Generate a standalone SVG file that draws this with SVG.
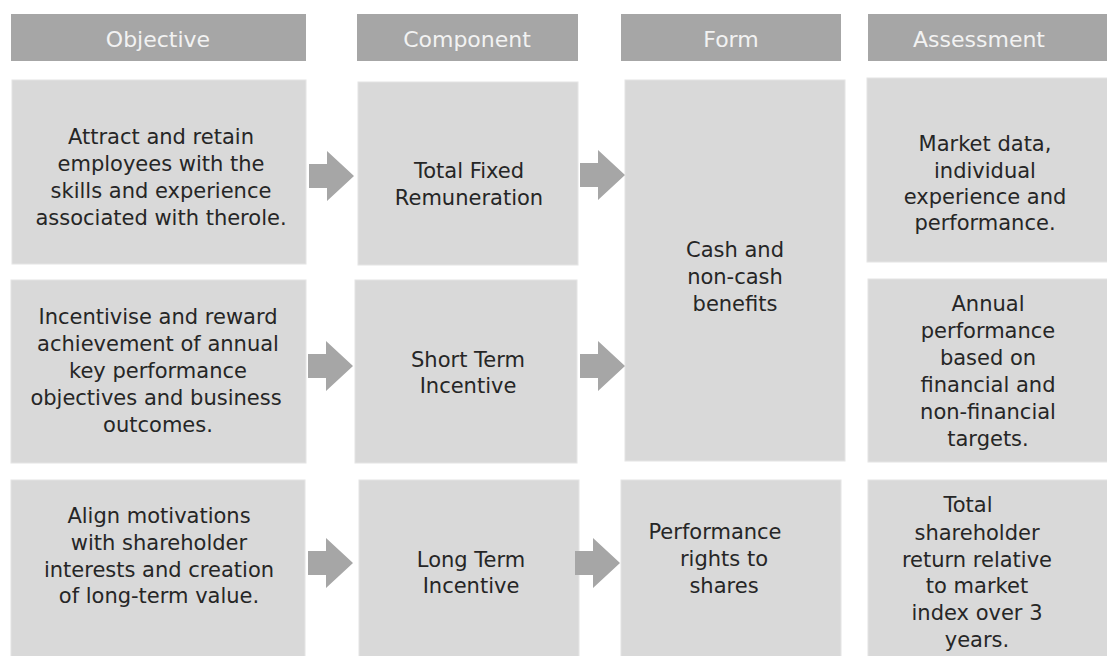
<svg xmlns="http://www.w3.org/2000/svg" xmlns:xlink="http://www.w3.org/1999/xlink" width="1107" height="656" viewBox="0 0 1107 656">
  <style>
    .hdr { fill: #a6a6a6; }
    .box { fill: #d9d9d9; stroke: #e4e4e4; stroke-width: 1; }
    .ht { font-family: "DejaVu Sans", Verdana, sans-serif; font-size: 22px; fill: #f2f2f2; text-anchor: middle; }
    .bt { font-family: "DejaVu Sans", Verdana, sans-serif; font-size: 21px; fill: #262626; text-anchor: middle; }
    .arr { fill: #a6a6a6; }
  </style>
  <defs>
    <path id="arrow" d="M0,0 L-27,-25 L-27,-12 L-45,-12 L-45,12 L-27,12 L-27,25 Z"/>
  </defs>
  <rect width="1107" height="656" fill="#ffffff"/>

  <g id="header-objective">
    <rect class="hdr" x="11" y="14" width="295" height="47"/>
    <text class="ht" x="158" y="47">Objective</text>
  </g>
  <g id="header-component">
    <rect class="hdr" x="357" y="14" width="221" height="47"/>
    <text class="ht" x="467" y="47">Component</text>
  </g>
  <g id="header-form">
    <rect class="hdr" x="621" y="14" width="220" height="47"/>
    <text class="ht" x="731" y="47">Form</text>
  </g>
  <g id="header-assessment">
    <rect class="hdr" x="868" y="14" width="240" height="47"/>
    <text class="ht" x="979" y="47">Assessment</text>
  </g>

  <g id="objective-1">
    <rect class="box" x="12" y="80" width="294" height="184"/>
    <text class="bt" x="161" y="144">Attract and retain</text>
    <text class="bt" x="161" y="171">employees with the</text>
    <text class="bt" x="161" y="198">skills and experience</text>
    <text class="bt" x="161" y="225">associated with therole.</text>
  </g>
  <g id="objective-2">
    <rect class="box" x="11" y="280" width="295" height="183"/>
    <text class="bt" x="158" y="324">Incentivise and reward</text>
    <text class="bt" x="158" y="351">achievement of annual</text>
    <text class="bt" x="158" y="378">key performance</text>
    <text class="bt" x="156" y="405">objectives and business</text>
    <text class="bt" x="158" y="432">outcomes.</text>
  </g>
  <g id="objective-3">
    <rect class="box" x="11" y="480" width="294" height="180"/>
    <text class="bt" x="159" y="523">Align motivations</text>
    <text class="bt" x="159" y="550">with shareholder</text>
    <text class="bt" x="159" y="577">interests and creation</text>
    <text class="bt" x="159" y="603">of long-term value.</text>
  </g>

  <g id="component-1">
    <rect class="box" x="358" y="82" width="220" height="183"/>
    <text class="bt" x="469" y="178">Total Fixed</text>
    <text class="bt" x="469" y="205">Remuneration</text>
  </g>
  <g id="component-2">
    <rect class="box" x="355" y="280" width="222" height="183"/>
    <text class="bt" x="468" y="367">Short Term</text>
    <text class="bt" x="468" y="393">Incentive</text>
  </g>
  <g id="component-3">
    <rect class="box" x="359" y="480" width="220" height="180"/>
    <text class="bt" x="471" y="567">Long Term</text>
    <text class="bt" x="471" y="593">Incentive</text>
  </g>

  <g id="form-1">
    <rect class="box" x="625" y="80" width="220" height="381"/>
    <text class="bt" x="735" y="257">Cash and</text>
    <text class="bt" x="735" y="284">non-cash</text>
    <text class="bt" x="735" y="311">benefits</text>
  </g>
  <g id="form-2">
    <rect class="box" x="621" y="480" width="220" height="180"/>
    <text class="bt" x="715" y="539">Performance</text>
    <text class="bt" x="724" y="566">rights to</text>
    <text class="bt" x="724" y="593">shares</text>
  </g>

  <g id="assessment-1">
    <rect class="box" x="867" y="78" width="241" height="184"/>
    <text class="bt" x="985" y="151">Market data,</text>
    <text class="bt" x="985" y="178">individual</text>
    <text class="bt" x="985" y="204">experience and</text>
    <text class="bt" x="985" y="230">performance.</text>
  </g>
  <g id="assessment-2">
    <rect class="box" x="868" y="279" width="240" height="183"/>
    <text class="bt" x="988" y="311">Annual</text>
    <text class="bt" x="988" y="338">performance</text>
    <text class="bt" x="988" y="365">based on</text>
    <text class="bt" x="988" y="392">financial and</text>
    <text class="bt" x="988" y="419">non-financial</text>
    <text class="bt" x="988" y="446">targets.</text>
  </g>
  <g id="assessment-3">
    <rect class="box" x="868" y="480" width="240" height="180"/>
    <text class="bt" x="968" y="512">Total</text>
    <text class="bt" x="977" y="540">shareholder</text>
    <text class="bt" x="977" y="567">return relative</text>
    <text class="bt" x="977" y="593">to market</text>
    <text class="bt" x="977" y="620">index over 3</text>
    <text class="bt" x="977" y="647">years.</text>
  </g>

  <g id="connectors">
    <use class="arr" xlink:href="#arrow" href="#arrow" transform="translate(354,176)"/>
    <use class="arr" xlink:href="#arrow" href="#arrow" transform="translate(625,175)"/>
    <use class="arr" xlink:href="#arrow" href="#arrow" transform="translate(353,366)"/>
    <use class="arr" xlink:href="#arrow" href="#arrow" transform="translate(625,366)"/>
    <use class="arr" xlink:href="#arrow" href="#arrow" transform="translate(353,563)"/>
    <use class="arr" xlink:href="#arrow" href="#arrow" transform="translate(620,563)"/>
  </g>
</svg>
